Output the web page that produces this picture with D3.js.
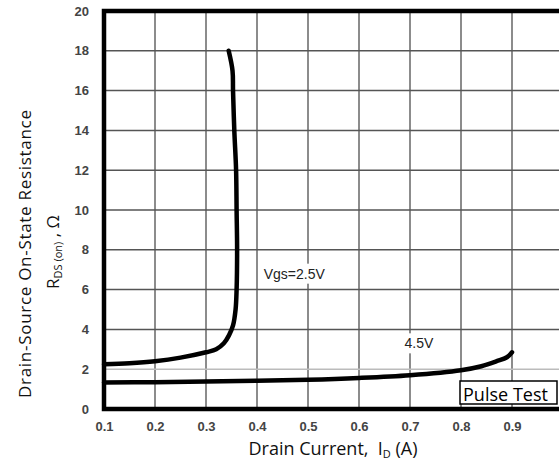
<!DOCTYPE html>
<html>
<head>
<meta charset="utf-8">
<script src="https://cdn.jsdelivr.net/npm/d3@7"></script>
<style>
  body { margin: 0; background: #fff; }
  svg { display: block; }
</style>
</head>
<body>
<div id="chart"></div>
<script>
// x ticks (drain current, A) and y ticks (resistance, ohm)
const xTicks = [0.1, 0.2, 0.3, 0.4, 0.5, 0.6, 0.7, 0.8, 0.9];
const yTicks = [0, 2, 4, 6, 8, 10, 12, 14, 16, 18, 20];

// Vgs = 2.5V curve, [Id, Rds]
const vgs25 = [
  [0.1, 2.25], [0.15, 2.3], [0.2, 2.4], [0.25, 2.58], [0.3, 2.85],
  [0.32, 3.0], [0.335, 3.3], [0.345, 3.7], [0.353, 4.2], [0.358, 5.0],
  [0.36, 6.0], [0.361, 8], [0.36, 10], [0.359, 12], [0.3555, 14],
  [0.353, 16], [0.352, 17], [0.3445, 18]
];

// Vgs = 4.5V curve
const vgs45 = [
  [0.1, 1.33], [0.2, 1.35], [0.3, 1.38], [0.4, 1.42], [0.5, 1.47],
  [0.6, 1.56], [0.7, 1.7], [0.8, 1.95], [0.84, 2.15], [0.87, 2.4],
  [0.89, 2.6], [0.9, 2.85]
];

const curveLabels = ['Vgs=2.5V', '4.5V'];

let width = 559;
let height = 461;
let plotLeft = 104, plotTop = 11, plotBottom = 409;

let svg = d3.select('#chart').append('svg')
  .attr('width', width)
  .attr('height', height);

// 51px per 0.1 A, the right edge is cut off by the picture
let x = d3.scaleLinear().domain([0.1, 1.0]).range([plotLeft, plotLeft + 459]);
let y = d3.scaleLinear().domain([0, 20]).range([plotBottom, plotTop]);

// Grid lines
svg.append('g')
  .selectAll('line')
  .data(xTicks.slice(1))
  .join('line')
  .attr('x1', d => x(d)).attr('x2', d => x(d))
  .attr('y1', plotTop).attr('y2', plotBottom)
  .attr('stroke', '#666')
  .attr('stroke-width', 1.5);

svg.append('g')
  .selectAll('line')
  .data(yTicks.slice(1, -1))
  .join('line')
  .attr('x1', plotLeft).attr('x2', width)
  .attr('y1', d => y(d)).attr('y2', d => y(d))
  .attr('stroke', d => d === 2 ? '#bbb' : '#555')
  .attr('stroke-width', 1.5);

// Axes (labels only)
let xAxis = svg.append('g')
  .attr('transform', `translate(0,${plotBottom})`)
  .call(d3.axisBottom(x).tickValues(xTicks).tickSize(0).tickPadding(13).tickFormat(d3.format('.1f')));
xAxis.select('.domain').remove();
xAxis.selectAll('text')
  .attr('font-family', 'Liberation Sans, Arial, sans-serif')
  .attr('font-size', 13)
  .attr('font-weight', 'bold')
  .attr('fill', '#444');

let yAxis = svg.append('g')
  .attr('transform', `translate(${plotLeft},0)`)
  .call(d3.axisLeft(y).tickValues(yTicks).tickSize(0).tickPadding(15));
yAxis.select('.domain').remove();
yAxis.selectAll('text')
  .attr('font-family', 'Liberation Sans, Arial, sans-serif')
  .attr('font-size', 13)
  .attr('font-weight', 'bold')
  .attr('fill', '#444');

// Frame: left, top, bottom
svg.append('path')
  .attr('d', `M${width},${plotTop} H${plotLeft} V${plotBottom} H${width}`)
  .attr('fill', 'none')
  .attr('stroke', '#000')
  .attr('stroke-width', 4.5);

// Curves
let line = d3.line()
  .x(d => x(d[0]))
  .y(d => y(d[1]))
  .curve(d3.curveCatmullRom);

[vgs25, vgs45].forEach(s => {
  svg.append('path')
    .attr('d', line(s))
    .attr('fill', 'none')
    .attr('stroke', '#000')
    .attr('stroke-width', 4.5)
    .attr('stroke-linecap', 'round');
});

// Curve labels with white backing
function addLabel(txt, cx, cy) {
  let t = svg.append('text')
    .text(txt)
    .attr('x', cx).attr('y', cy)
    .attr('text-anchor', 'middle')
    .attr('dominant-baseline', 'central')
    .attr('font-family', 'Liberation Sans, Arial, sans-serif')
    .attr('font-size', 14)
    .attr('fill', '#222');
  let b = t.node().getBBox();
  svg.insert('rect', () => t.node())
    .attr('x', b.x - 3).attr('y', b.y - 2)
    .attr('width', b.width + 6).attr('height', b.height + 4)
    .attr('fill', '#fff');
}
addLabel(curveLabels[0], x(0.473), y(6.8));
addLabel(curveLabels[1], x(0.7175), y(3.3));

// Pulse Test box
svg.append('rect')
  .attr('x', 460).attr('y', 381)
  .attr('width', 97).attr('height', 23)
  .attr('fill', '#fff')
  .attr('stroke', '#000')
  .attr('stroke-width', 1.5);
svg.append('text')
  .text('Pulse Test')
  .attr('x', 463).attr('y', 401)
  .attr('font-family', 'Open Sans, sans-serif')
  .attr('font-size', 18)
  .attr('textLength', 85)
  .attr('fill', '#000');

// Axis titles
let xt = svg.append('text')
  .attr('x', 333).attr('y', 455)
  .attr('text-anchor', 'middle')
  .attr('font-family', 'Open Sans, sans-serif')
  .attr('font-size', 18)
  .attr('fill', '#111');
xt.append('tspan').text('Drain Current,\u00a0\u00a0I');
xt.append('tspan').text('D').attr('font-size', 11).attr('dy', 3);
xt.append('tspan').text(' (A)').attr('dy', -3);

svg.append('text')
  .attr('transform', 'translate(31,254) rotate(-90)')
  .attr('text-anchor', 'middle')
  .attr('font-family', 'Open Sans, sans-serif')
  .attr('font-size', 17)
  .attr('textLength', 288)
  .attr('fill', '#111')
  .text('Drain-Source On-State Resistance');

let yt2 = svg.append('text')
  .attr('transform', 'translate(59,252) rotate(-90)')
  .attr('text-anchor', 'middle')
  .attr('font-family', 'Open Sans, sans-serif')
  .attr('font-size', 17)
  .attr('fill', '#111');
yt2.append('tspan').text('R');
yt2.append('tspan').text('DS (on)').attr('font-size', 11).attr('dy', 3);
yt2.append('tspan').text(' , Ω').attr('dy', -3);
</script>
</body>
</html>
